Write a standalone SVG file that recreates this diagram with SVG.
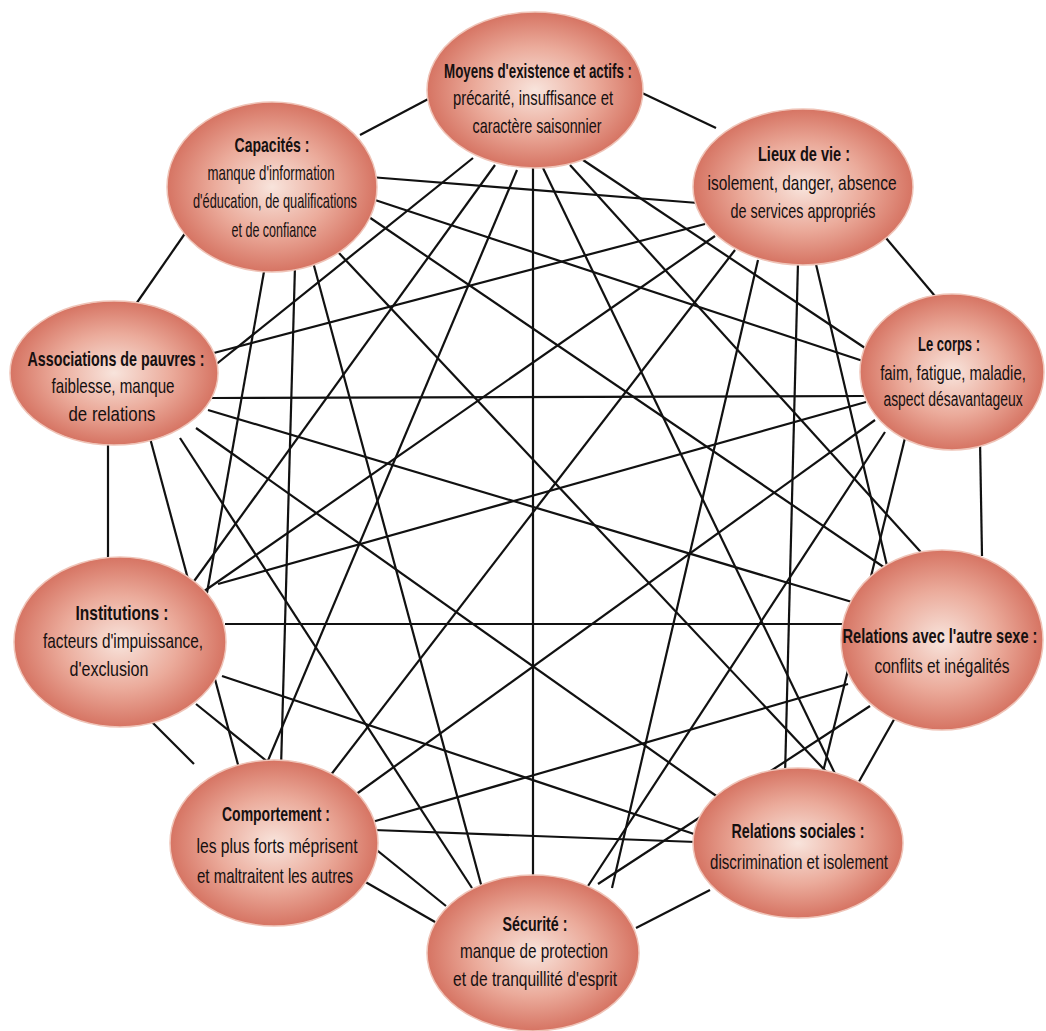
<svg xmlns="http://www.w3.org/2000/svg" width="1046" height="1031" viewBox="0 0 1046 1031">
<defs>
<radialGradient id="g" cx="50%" cy="50%" r="50%">
<stop offset="0%" stop-color="#f8e4dc"/>
<stop offset="55%" stop-color="#ebab9b"/>
<stop offset="100%" stop-color="#d67463"/>
</radialGradient>
<style>
.e{fill:url(#g);stroke:#efc4b8;stroke-width:1.5}
.c line{stroke:#111;stroke-width:2.2}
text{font-family:"Liberation Sans",Arial,sans-serif;font-size:21px;fill:#161010;text-anchor:middle}
.t{font-weight:bold}
</style>
</defs>
<rect width="1046" height="1031" fill="#fff"/>
<g class="c" id="connectors">
<line x1="360" y1="135" x2="432" y2="97"/>
<line x1="640" y1="92" x2="716" y2="128"/>
<line x1="186" y1="232" x2="136" y2="304"/>
<line x1="886" y1="238" x2="940" y2="302"/>
<line x1="108" y1="440" x2="108" y2="562"/>
<line x1="980" y1="440" x2="982" y2="556"/>
<line x1="144" y1="714" x2="194" y2="764"/>
<line x1="896" y1="716" x2="852" y2="794"/>
<line x1="362" y1="880" x2="442" y2="926"/>
<line x1="710" y1="890" x2="636" y2="928"/>
<line x1="583" y1="160" x2="865" y2="348"/>
<line x1="570" y1="165" x2="928" y2="560"/>
<line x1="543" y1="168" x2="838" y2="780"/>
<line x1="533" y1="160" x2="533" y2="885"/>
<line x1="517" y1="170" x2="264" y2="770"/>
<line x1="495" y1="165" x2="192" y2="584"/>
<line x1="473" y1="158" x2="214" y2="366"/>
<line x1="698" y1="203" x2="370" y2="177"/>
<line x1="705" y1="224" x2="210" y2="354"/>
<line x1="715" y1="236" x2="200" y2="594"/>
<line x1="735" y1="250" x2="330" y2="776"/>
<line x1="758" y1="260" x2="612" y2="888"/>
<line x1="798" y1="262" x2="785" y2="776"/>
<line x1="815" y1="260" x2="888" y2="570"/>
<line x1="372" y1="199" x2="866" y2="362"/>
<line x1="212" y1="398" x2="866" y2="396"/>
<line x1="218" y1="584" x2="866" y2="402"/>
<line x1="875" y1="420" x2="355" y2="795"/>
<line x1="885" y1="432" x2="588" y2="886"/>
<line x1="905" y1="438" x2="822" y2="776"/>
<line x1="366" y1="215" x2="888" y2="570"/>
<line x1="225" y1="624" x2="848" y2="624"/>
<line x1="208" y1="410" x2="852" y2="602"/>
<line x1="372" y1="822" x2="848" y2="684"/>
<line x1="598" y1="884" x2="870" y2="706"/>
<line x1="338" y1="252" x2="834" y2="780"/>
<line x1="196" y1="428" x2="722" y2="800"/>
<line x1="222" y1="676" x2="700" y2="836"/>
<line x1="374" y1="830" x2="696" y2="842"/>
<line x1="313" y1="262" x2="482" y2="888"/>
<line x1="180" y1="438" x2="472" y2="888"/>
<line x1="196" y1="704" x2="446" y2="906"/>
<line x1="150" y1="438" x2="240" y2="772"/>
<line x1="295" y1="266" x2="281" y2="768"/>
<line x1="265" y1="266" x2="205" y2="604"/>
</g>
<g id="n-moyens"><ellipse class="e" cx="535" cy="90" rx="108" ry="78"/>
<text class="t" x="538" y="78" textLength="188" lengthAdjust="spacingAndGlyphs">Moyens d'existence et actifs :</text>
<text x="533" y="105" textLength="160" lengthAdjust="spacingAndGlyphs">précarité, insuffisance et</text>
<text x="537" y="133" textLength="129" lengthAdjust="spacingAndGlyphs">caractère saisonnier</text></g>
<g id="n-capacites"><ellipse class="e" cx="272" cy="187" rx="105" ry="85"/>
<text class="t" x="272" y="152" textLength="75" lengthAdjust="spacingAndGlyphs">Capacités :</text>
<text x="271" y="180" textLength="127" lengthAdjust="spacingAndGlyphs">manque d'information</text>
<text x="275" y="208" textLength="164" lengthAdjust="spacingAndGlyphs">d'éducation, de qualifications</text>
<text x="274" y="237" textLength="85" lengthAdjust="spacingAndGlyphs">et de confiance</text></g>
<g id="n-lieux"><ellipse class="e" cx="803" cy="187" rx="110" ry="78"/>
<text class="t" x="804" y="161" textLength="92" lengthAdjust="spacingAndGlyphs">Lieux de vie :</text>
<text x="802" y="190" textLength="189" lengthAdjust="spacingAndGlyphs">isolement, danger, absence</text>
<text x="803" y="218" textLength="145" lengthAdjust="spacingAndGlyphs">de services appropriés</text></g>
<g id="n-associations"><ellipse class="e" cx="114" cy="373" rx="104" ry="72"/>
<text class="t" x="116" y="366" textLength="177" lengthAdjust="spacingAndGlyphs">Associations de pauvres :</text>
<text x="113" y="393" textLength="123" lengthAdjust="spacingAndGlyphs">faiblesse, manque</text>
<text x="112" y="421" textLength="87" lengthAdjust="spacingAndGlyphs">de relations</text></g>
<g id="n-corps"><ellipse class="e" cx="952" cy="372" rx="92" ry="78"/>
<text class="t" x="949" y="351" textLength="62" lengthAdjust="spacingAndGlyphs">Le corps :</text>
<text transform="translate(953,380) scale(0.745,1)" style="font-size:20px">faim, fatigue, maladie,</text>
<text transform="translate(953,406) scale(0.696,1)" style="font-size:20px">aspect désavantageux</text></g>
<g id="n-institutions"><ellipse class="e" cx="120" cy="642" rx="106" ry="85"/>
<text class="t" x="122" y="620" textLength="93" lengthAdjust="spacingAndGlyphs">Institutions :</text>
<text x="123" y="648" textLength="160" lengthAdjust="spacingAndGlyphs">facteurs d'impuissance,</text>
<text x="109" y="676" textLength="79" lengthAdjust="spacingAndGlyphs">d'exclusion</text></g>
<g id="n-autre-sexe"><ellipse class="e" cx="942" cy="640" rx="101" ry="90"/>
<text class="t" transform="translate(940,643) scale(0.73,1)" style="font-size:20px">Relations avec l'autre sexe :</text>
<text transform="translate(942,673) scale(0.737,1)">conflits et inégalités</text></g>
<g id="n-comportement"><ellipse class="e" cx="274" cy="843" rx="104" ry="83"/>
<text class="t" x="276" y="821" textLength="108" lengthAdjust="spacingAndGlyphs">Comportement :</text>
<text x="277" y="853" textLength="161" lengthAdjust="spacingAndGlyphs">les plus forts méprisent</text>
<text x="275" y="883" textLength="156" lengthAdjust="spacingAndGlyphs">et maltraitent les autres</text></g>
<g id="n-sociales"><ellipse class="e" cx="798" cy="843" rx="105" ry="75"/>
<text class="t" x="798" y="838" textLength="133" lengthAdjust="spacingAndGlyphs">Relations sociales :</text>
<text x="799" y="869" textLength="178" lengthAdjust="spacingAndGlyphs">discrimination et isolement</text></g>
<g id="n-securite"><ellipse class="e" cx="533" cy="953" rx="106" ry="78"/>
<text class="t" x="535" y="931" textLength="65" lengthAdjust="spacingAndGlyphs">Sécurité :</text>
<text x="534" y="958" textLength="148" lengthAdjust="spacingAndGlyphs">manque de protection</text>
<text x="535" y="986" textLength="164" lengthAdjust="spacingAndGlyphs">et de tranquillité d'esprit</text></g>
</svg>
